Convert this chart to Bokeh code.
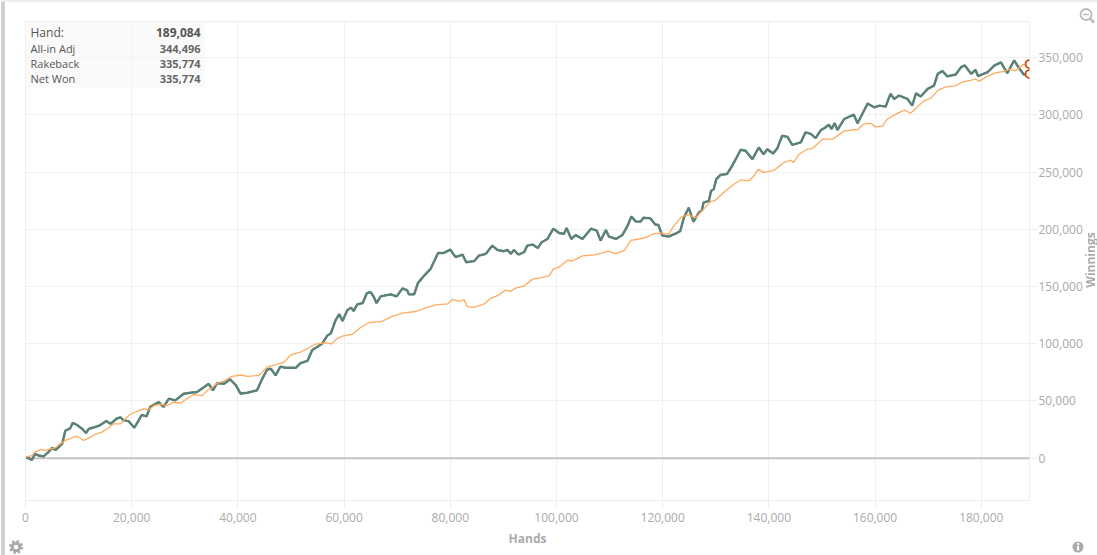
from bokeh.plotting import figure
from bokeh.layouts import column
from bokeh.embed import file_html
from bokeh.resources import INLINE
from bokeh.models import FixedTicker, NumeralTickFormatter, Span, Label, BoxAnnotation, Div

FONT = "Open Sans"

net_hands = [0.1,1.2,1.8,2.5,3.4,4.3,5,5.7,6.9,7.5,8.4,8.9,9.7,10.6,11.4,11.9,12.8,14.1,15.2,16,17.2,17.9,18.5,19.4,20.5,21.3,21.9,22.8,23.5,25.1,26,27,28.2,29.8,31.1,32.3,33.6,34.5,35.3,36.1,37.4,38.5,39.6,40.5,41.8,43.6,44.6,45.5,46.2,47.1,48,49,50.9,51.8,53.1,54,55,55.9,56.9,57.5,58.4,59.1,59.7,60.6,61.3,61.8,62.5,63.5,64.3,65,65.6,66.1,66.9,67.8,68.8,69.9,71,71.9,72.2,73.2,73.9,75.1,76.3,77.7,78.8,80,81,82.3,83,84.5,85.4,86.7,87.9,88.9,90.1,90.8,91.4,92,92.8,93.9,94.5,95.5,96.5,97.2,98.3,99.4,100.5,101.4,101.9,102.8,103.6,104.9,106.5,107.6,108.3,109.3,109.9,111.2,112.4,113.4,114.1,114.9,115.8,116.4,117.7,118.6,119.2,119.9,121.1,122.4,123.3,124,124.9,125.8,126.8,127.4,127.7,128.7,129.1,129.6,130.1,130.9,132.1,133.1,134.7,135.6,136.9,138.1,139,139.7,140.8,141.6,142.5,143.5,144.4,146,146.9,147.9,148.8,149.8,150.5,151.3,151.8,152.4,152.9,154.2,156,156.7,157.6,158.6,159.8,160.8,162,162.9,163.6,164.5,166.1,167,167.7,168.6,169.9,171.1,171.8,172.7,173.6,175.2,176.2,176.9,178.1,178.9,179.4,181.2,182.5,183.7,184.9,186.2,187.2,188,189.084]
net_won = [0.9,-1.5,3.8,2.3,1.5,5.3,9,7.3,12.5,24,26,31,29,26,22,25.6,26.8,28.9,32.4,30,34.7,35.6,33,32.4,26.6,33,37.8,36.6,44.8,49,44.8,52,50.5,56.3,57.2,57.8,62,65,59.3,65.7,65,69,63.8,56.5,57.2,59.3,69.5,77.3,78.2,72.4,80,79,79,83,85,94.5,97.4,100.3,107.5,109,120.6,125.8,120,129.3,131.6,128.7,134.5,135.6,144.3,145.2,140.9,135.6,141.4,142.3,143.2,141.4,148.4,146.7,143.2,143.2,153,159.7,165.5,179.4,179.4,182.3,175.7,178,171.3,172.2,177.1,178.6,185.8,182,180.9,182,178.6,182,178,180,185.8,186.7,183.8,188.7,191.6,200.6,196.8,196,201.2,191.6,195,191.6,200.6,198.8,190.1,199.4,193.6,191.6,195,203.2,211.3,207,206.7,210.2,209.6,204.3,203.8,194.7,193.6,196.2,198.5,210.2,218.9,206.7,214.6,216.7,223.4,224.9,233.6,235,243.9,247.7,248.3,255.6,269.6,268.7,261.4,271.6,265.7,270.1,266.3,271,281.8,280.9,273.9,276,284.8,283.4,279.8,286.8,288.6,291.5,287.7,292.9,286.8,296.5,300.3,292.7,300.9,310,306.7,308.2,307.3,318.5,314,317,314,308.2,319,316.1,322.8,325.7,336,338.3,333.7,335.4,341.8,343.3,336,339.5,333.9,337.5,343.3,345.9,336.6,347.7,340.4,335.4,335.774]
rakeback = list(net_won)

adj_hands = [0.1,1.2,1.8,2.8,3.7,4.7,5.6,6.5,7.5,8.4,9.4,10,10.9,11.9,13.1,14.4,15.7,16.6,17.9,18.8,19.7,21,22.3,23.2,24.2,25.4,26.7,27.9,29.2,30.4,31.7,33.3,34.2,35.2,36.1,37.4,38.9,40.5,41.8,44,45.5,47.4,48.7,49.9,51.8,53.1,54.4,55.6,56.9,57.6,58.7,59.7,61.6,63.1,64.7,66,66.9,69.1,71,73.5,75.4,77.3,79.5,80.4,81.7,82.6,83.2,84.5,86.4,87.6,88.9,90.4,91.4,92.3,93.9,95.5,96.7,98.6,99.4,100.5,102.1,103,104.9,107.1,108.9,109.6,111.2,112.8,114,115.8,117,118.3,119.9,121.1,122.1,123.6,124.9,126.2,127.4,129,129.9,131.8,133.4,134.7,136.2,137.2,138,139.1,141,142.8,144.1,144.6,145.7,147.2,148.2,150.1,152,154.2,156.7,157.9,159.2,160.1,161.4,162.3,163.9,165.5,166.7,169.2,170.5,171.9,173.3,175.2,176.2,179,179.6,181.2,182.8,184.3,185.3,186.5,187.8,189.084]
all_in_adj = [0.9,2.3,5.3,7.6,6.7,8.2,9,12.5,15.5,17,19,18.7,15.5,17.5,20.7,22.8,26.6,30,30,34.4,38.2,41,43,42.3,46,47.3,46,49,48,52,55.6,54.7,59,62,65.7,67.4,71.5,72.7,71.5,72.4,79.7,82,84,90,92.8,95.7,99.4,100.3,100.9,99.7,104.6,106.7,108.4,114.2,118.6,119.1,119.1,124,126.7,128.2,131.3,134,134.8,138.9,137.1,138.6,132.5,131.9,134.8,139.7,142,146.9,145.8,148.7,150.7,156.5,157.4,159.4,165.2,167.2,173,172.4,176.8,177.7,179.7,181,178.8,181.7,190.4,191.8,193.2,196.2,196.8,195.6,203,211.1,212.6,210.2,216,224.2,225.4,233.6,239.4,243.2,242.3,246.7,252.6,249.6,251.7,258.4,260.5,258.4,265.7,270,270.6,278.8,278.8,286.1,287.3,292,292.8,289.6,290.2,296.3,300.7,304.2,301.5,312.3,314.7,321.7,324.6,325.5,328.4,331.3,329.3,334.2,337.1,338,340,338.6,343.9,344.496]

x_ticks = [0,20000,40000,60000,80000,100000,120000,140000,160000,180000]
y_ticks = [0,50000,100000,150000,200000,250000,300000,350000]
rows = [("Hand:", "189,084"), ("All-in Adj", "344,496"), ("Rakeback", "335,774"), ("Net Won", "335,774")]

X0, X1, Y0, Y1 = 0, 189084, -37000, 381700
L, R, T, B = 25, 1029, 21, 500
W, H = 1097, 555

p = figure(width=W, height=H, output_backend="svg", toolbar_location=None,
           x_range=(X0, X1), y_range=(Y0, Y1), y_axis_location="right",
           min_border_left=L, min_border_right=W-R, min_border_top=T, min_border_bottom=H-B,
           background_fill_color="white", border_fill_color="white")
p.outline_line_color = "#eeeeee"

for ax, ticks in ((p.xaxis[0], x_ticks), (p.yaxis[0], y_ticks)):
    ax.ticker = FixedTicker(ticks=ticks)
    ax.formatter = NumeralTickFormatter(format="0,0")
    ax.axis_line_color = None
    ax.major_tick_line_color = "#eeeeee"
    ax.major_tick_in = 0
    ax.major_tick_out = 8
    ax.minor_tick_line_color = None
    ax.major_label_text_color = "#aaaaaa"
    ax.major_label_text_font = FONT
    ax.major_label_text_font_size = "12px"
p.xaxis[0].axis_label = "Hands"
p.xaxis[0].axis_label_text_color = "#aaaaaa"
p.xaxis[0].axis_label_text_font = FONT
p.xaxis[0].axis_label_text_font_size = "12px"
p.xaxis[0].axis_label_text_font_style = "bold"
p.xaxis[0].major_label_standoff = 4
p.xaxis[0].axis_label_standoff = 5
p.yaxis[0].major_label_standoff = 1

for g, ticks in ((p.xgrid[0], x_ticks), (p.ygrid[0], y_ticks)):
    g.ticker = FixedTicker(ticks=ticks)
    g.grid_line_color = "#f0f0f0"
    g.grid_line_width = 1

p.add_layout(Span(location=0, dimension="width", line_color="#c4c4c4", line_width=2, level="underlay"))

nx = [v * 1000 for v in net_hands]
p.line(nx, [v * 1000 for v in rakeback], line_color="#4f8a45", line_width=2.4)
p.line(nx, [v * 1000 for v in net_won], line_color="#5f7f88", line_width=1.8)
p.line([v * 1000 for v in adj_hands], [v * 1000 for v in all_in_adj], line_color="#ffab5e", line_width=1.3)
p.scatter([adj_hands[-1] * 1000, net_hands[-1] * 1000], [all_in_adj[-1] * 1000, net_won[-1] * 1000],
          size=8, line_color="#cf4a0a", line_width=1.8, fill_color="white", marker="circle")


def px(x):
    return X0 + (x - L) * (X1 - X0) / (R - L)


def py(y):
    return Y1 - (y - T) * (Y1 - Y0) / (B - T)


p.add_layout(BoxAnnotation(left=px(26), right=px(204), top=py(22), bottom=py(87),
                           fill_color="#f5f5f5", fill_alpha=0.5, line_color=None, level="underlay"))

row_y = [32, 48, 63, 78]
for i, ((name, val), y) in enumerate(zip(rows, row_y)):
    size = "12px" if i == 0 else "11px"
    p.add_layout(Label(x=px(30), y=py(y), text=name, text_font=FONT, text_font_size=size,
                       text_color="#555555", text_baseline="middle", text_align="left"))
    p.add_layout(Label(x=px(200), y=py(y), text=val, text_font=FONT, text_font_size=size,
                       text_font_style="bold", text_color="#555555" if i == 0 else "#666666",
                       text_baseline="middle", text_align="right"))

chrome_html = """
<div style="position:fixed;left:1px;top:0;width:4px;height:555px;background:#d0d0d0"></div>
<div style="position:fixed;left:1px;top:0;width:1096px;height:1.5px;background:#eeeeee"></div>
<span style="position:fixed;left:1090px;top:260px;transform:translate(-50%,-50%) rotate(-90deg);font:bold 12px 'Open Sans';color:#aaaaaa;white-space:nowrap">Winnings</span>
<svg style="position:fixed;left:1075px;top:4px" width="22" height="22">
  <circle cx="11" cy="10.5" r="5.5" fill="none" stroke="#bbbbbb" stroke-width="1.8"/>
  <line x1="8" y1="10.5" x2="14" y2="10.5" stroke="#bbbbbb" stroke-width="1.5"/>
  <line x1="15" y1="14.5" x2="19" y2="18.5" stroke="#bbbbbb" stroke-width="2.5"/>
</svg>
<svg style="position:fixed;left:1071px;top:540px" width="14" height="14">
  <circle cx="7" cy="7" r="5.5" fill="#aaaaaa"/>
  <rect x="6" y="6" width="2.2" height="4.5" fill="white"/>
  <rect x="6" y="3" width="2.2" height="2" fill="white"/>
</svg>
<svg style="position:fixed;left:8px;top:539px" width="16" height="16">
  <circle cx="8" cy="8" r="3.8" fill="none" stroke="#aaaaaa" stroke-width="3"/>
  <circle cx="8" cy="8" r="5.8" fill="none" stroke="#aaaaaa" stroke-width="2.6" stroke-dasharray="2.3 2.25"/>
</svg>
"""
chrome = Div(text=chrome_html, width=0, height=0, margin=0)

open("out.html", "w").write(file_html(column(p, chrome, spacing=0), INLINE))
